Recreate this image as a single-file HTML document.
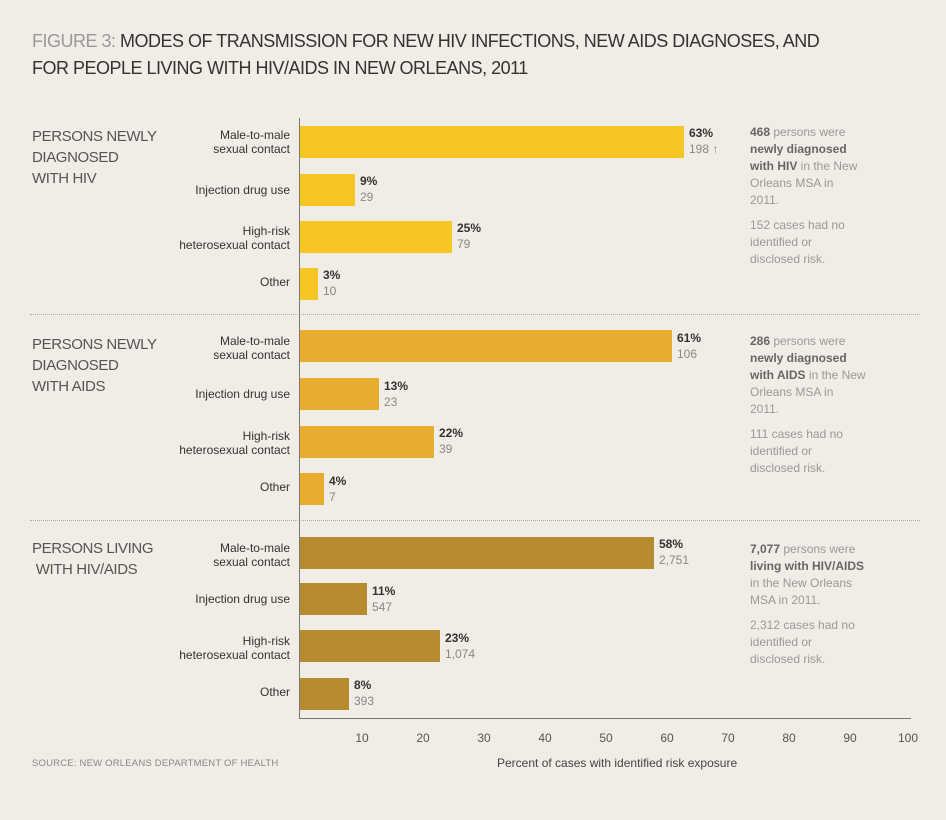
<!DOCTYPE html><html><head><style>
body{margin:0;width:946px;height:820px;background:#f0ece6;font-family:"Liberation Sans",sans-serif;position:relative;overflow:hidden}
div{position:absolute}
.t{left:32px;font-size:18px;color:#333;letter-spacing:-0.5px;white-space:nowrap}
.h{left:32px;font-size:15px;color:#555;line-height:21px;letter-spacing:-0.4px}
.l{width:290px;left:0;text-align:right;font-size:12px;color:#333;line-height:14px}
.b{left:300px;height:32px}
.p{font-size:12px;font-weight:bold;color:#333;line-height:16px}
.p span{font-weight:normal;color:#888;display:block}
.s{left:750px;font-size:12px;color:#999;line-height:17px;white-space:nowrap}
.s b{color:#666}
.sep{left:30px;width:890px;border-top:1px dotted #aaa}
.k{top:731px;font-size:12px;color:#555;width:30px;text-align:center}
</style></head><body>
<div class="t" style="top:31px"><span style="color:#999">FIGURE 3:</span> MODES OF TRANSMISSION FOR NEW HIV INFECTIONS, NEW AIDS DIAGNOSES, AND</div>
<div class="t" style="top:58px">FOR PEOPLE LIVING WITH HIV/AIDS IN NEW ORLEANS, 2011</div>

<div class="h" style="top:126px">PERSONS NEWLY<br>DIAGNOSED<br>WITH HIV</div>
<div class="h" style="top:334px">PERSONS NEWLY<br>DIAGNOSED<br>WITH AIDS</div>
<div class="h" style="top:538px">PERSONS LIVING<br>&nbsp;WITH HIV/AIDS</div>

<div class="sep" style="top:314px"></div>
<div class="sep" style="top:520px"></div>

<div style="left:299px;top:118px;width:1px;height:601px;background:#777"></div>
<div style="left:299px;top:718px;width:612px;height:1px;background:#777"></div>

<div class="l" style="top:128px">Male-to-male<br>sexual contact</div>
<div class="b" style="top:126px;width:384px;background:#f7c623"></div>
<div class="p" style="left:689px;top:125px">63%<span>198 ↑</span></div>
<div class="l" style="top:183px">Injection drug use</div>
<div class="b" style="top:174px;width:55px;background:#f7c623"></div>
<div class="p" style="left:360px;top:173px">9%<span>29</span></div>
<div class="l" style="top:224px">High-risk<br>heterosexual contact</div>
<div class="b" style="top:221px;width:152px;background:#f7c623"></div>
<div class="p" style="left:457px;top:220px">25%<span>79</span></div>
<div class="l" style="top:275px">Other</div>
<div class="b" style="top:268px;width:18px;background:#f7c623"></div>
<div class="p" style="left:323px;top:267px">3%<span>10</span></div>
<div class="s" style="top:124px"><b>468</b> persons were<br><b>newly diagnosed</b><br><b>with HIV</b> in the New<br>Orleans MSA in<br>2011.<div style="position:static;height:8px"></div>152 cases had no<br>identified or<br>disclosed risk.</div>

<div class="l" style="top:334px">Male-to-male<br>sexual contact</div>
<div class="b" style="top:330px;width:372px;background:#e8ad2f"></div>
<div class="p" style="left:677px;top:330px">61%<span>106</span></div>
<div class="l" style="top:387px">Injection drug use</div>
<div class="b" style="top:378px;width:79px;background:#e8ad2f"></div>
<div class="p" style="left:384px;top:378px">13%<span>23</span></div>
<div class="l" style="top:429px">High-risk<br>heterosexual contact</div>
<div class="b" style="top:426px;width:134px;background:#e8ad2f"></div>
<div class="p" style="left:439px;top:425px">22%<span>39</span></div>
<div class="l" style="top:480px">Other</div>
<div class="b" style="top:473px;width:24px;background:#e8ad2f"></div>
<div class="p" style="left:329px;top:473px">4%<span>7</span></div>
<div class="s" style="top:333px"><b>286</b> persons were<br><b>newly diagnosed</b><br><b>with AIDS</b> in the New<br>Orleans MSA in<br>2011.<div style="position:static;height:8px"></div>111 cases had no<br>identified or<br>disclosed risk.</div>

<div class="l" style="top:541px">Male-to-male<br>sexual contact</div>
<div class="b" style="top:537px;width:354px;background:#b68a2e"></div>
<div class="p" style="left:659px;top:536px">58%<span>2,751</span></div>
<div class="l" style="top:592px">Injection drug use</div>
<div class="b" style="top:583px;width:67px;background:#b68a2e"></div>
<div class="p" style="left:372px;top:583px">11%<span>547</span></div>
<div class="l" style="top:634px">High-risk<br>heterosexual contact</div>
<div class="b" style="top:630px;width:140px;background:#b68a2e"></div>
<div class="p" style="left:445px;top:630px">23%<span>1,074</span></div>
<div class="l" style="top:685px">Other</div>
<div class="b" style="top:678px;width:49px;background:#b68a2e"></div>
<div class="p" style="left:354px;top:677px">8%<span>393</span></div>
<div class="s" style="top:541px"><b>7,077</b> persons were<br><b>living with HIV/AIDS</b><br>in the New Orleans<br>MSA in 2011.<div style="position:static;height:8px"></div>2,312 cases had no<br>identified or<br>disclosed risk.</div>

<div class="k" style="left:347px">10</div><div class="k" style="left:408px">20</div><div class="k" style="left:469px">30</div><div class="k" style="left:530px">40</div><div class="k" style="left:591px">50</div><div class="k" style="left:652px">60</div><div class="k" style="left:713px">70</div><div class="k" style="left:774px">80</div><div class="k" style="left:835px">90</div><div class="k" style="left:893px">100</div>

<div style="left:32px;top:758px;font-size:9.5px;color:#888;letter-spacing:0.2px">SOURCE: NEW ORLEANS DEPARTMENT OF HEALTH</div>
<div style="left:497px;top:756px;font-size:12px;color:#444">Percent of cases with identified risk exposure</div>
</body></html>
